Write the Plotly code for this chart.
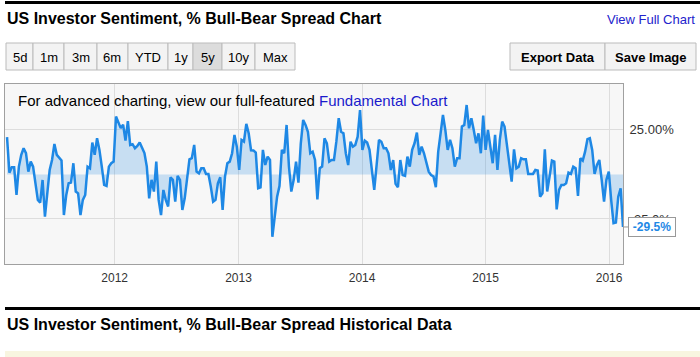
import pandas as pd
import plotly.graph_objects as go

# ---------------- data ----------------
start_date = "2011-02-17"  # weekly readings (Thursdays)
spread_values = [
    21, 1, 4, 4, -11.5, 4.4, 11, 14.7, 12, 1.6,
    7.2, 4.4, -5, -14.3, -15.8, -3.1, -23.7, -8.7, 2.5, 8.1,
    17.1, 11, 9.6, 7.8, -22.8, -11.5, -5, -4.6, 6.3, -9.6,
    -10.6, -22.8, -14.3, -11.5, 4.4, 3.5, 17.9, 11, 20.3, 13.8,
    4.4, -5.9, -6.5, 4.4, 6.3, 7.2, 32.5, 29, 26, 28,
    19, 30, 16.5, 17, 14.7, 16, 18, 15, 12, 4.4,
    -13.4, -3, -9.6, 7.2, -14.3, -22.8, -8.7, -14.3, -18, -1.6,
    -3, -15.3, -0.8, -3, -19.9, -13.4, -1.2, 8.5, 9.1, 16.6,
    1.6, 0.6, 3.5, 3.5, 0.3, 0.3, -6.8, -15.3, -14.3, -5,
    -1.6, -19.9, -1.2, 6.3, 7.2, 11.9, 22.2, 15.6, 2.5, 19.4,
    18.5, 28.4, 23.1, 13.6, 13.5, 12.3, -7.8, -7.3, 13.8, 5.3,
    10, 8.1, -35, -21.8, -12.5, -6.5, 13.8, 11.9, 27.8, 4.4,
    -9.6, -3, 7.2, -4.6, 17.5, 30.6, 27.8, 24, 11.9, 12.8,
    8.1, -14, 3.5, 4.4, 20.3, 17.5, 7.2, 8.1, 8.1, 18.4,
    31.6, 24, 23.1, 11.9, 5.3, 18.4, 15.6, 16.6, 21.2, 36.2,
    13.8, 19, 17.9, 13.8, 3, -8.7, 5.3, 19.4, 18.4, 14.7,
    14.7, 11.9, 2.5, 8.1, -5.3, -7.2, 8.1, -0.3, -0.8, 10,
    4.4, 13.8, 17.5, 23.5, 11, 15.6, 11.9, 6.3, 1.6, -0.3,
    -1.2, -7.2, 12.8, 23.1, 33.4, 25, 13.8, 19.4, 14.7, 4.4,
    9.1, 9.1, 26.9, 27.8, 39, 25.9, 31.6, 25, 17.5, 23.1,
    11.9, 33, 13.8, 25, 15.6, 6.3, 22.2, 2.5, 19.4, 29.7,
    26.9, 17.5, 5.3, -4, 14.1, 3.5, 4.4, 9.1, 8.5, 8.5,
    0.3, 0.3, 0.3, 2.5, 2.2, -12.5, -10.6, 14.1, -9.6, -1.2,
    7.8, 7.2, -19.6, -8.7, -5.9, -5.9, -5, 1, 0.3, 4.4,
    3.5, -12.1, 9.1, 7.8, 12.8, 19.8, 20.3, 13.8, 0.3, 5.3,
    8.1, -3, -15.3, -3, 1.6, -14.3, -27.4, -27, -12.5, -7.8,
    -29.5,
]
x_tick_vals = ["2012-01-01", "2013-01-01", "2014-01-01", "2015-01-01", "2016-01-01"]
x_tick_text = ["2012", "2013", "2014", "2015", "2016"]
y_tick_vals = [25, -25]
y_tick_text = ["25.00%", "-25.0%"]
range_buttons = ["5d", "1m", "3m", "6m", "YTD", "1y", "5y", "10y", "Max"]
selected_button = "5y"
last_label = "-29.5%"

dates = pd.date_range(start_date, periods=len(spread_values), freq="7D")

# ---------------- layout helpers ----------------
W, H = 700, 357
ML, MR, MT, MB = 5, 77, 84, 93
PW, PH = W - ML - MR, H - MT - MB
FONT = "Arial, 'Liberation Sans', sans-serif"


def px(x):
    return (x - ML) / PW


def py(y):
    return (H - MB - y) / PH


fig = go.Figure()
fig.add_trace(go.Scatter(
    x=dates, y=spread_values, mode="lines",
    line=dict(color="#1e88e5", width=2.5),
    fill="tozeroy", fillcolor="rgba(30,136,229,0.22)",
    hoverinfo="skip", showlegend=False,
))

shapes = []
annotations = []

# top rule and heading
shapes.append(dict(type="rect", xref="paper", yref="paper", x0=px(5), x1=px(700),
                   y0=py(4), y1=py(1), fillcolor="#000", line=dict(width=0), layer="above"))
annotations.append(dict(xref="paper", yref="paper", x=px(5), y=py(18), xanchor="left", yanchor="middle",
                        text="<b>US Investor Sentiment, % Bull-Bear Spread Chart</b>", showarrow=False,
                        font=dict(family=FONT, size=16, color="#000")))
annotations.append(dict(xref="paper", yref="paper", x=px(697), y=py(20), xanchor="right", yanchor="middle",
                        text="View Full Chart", showarrow=False,
                        font=dict(family=FONT, size=13, color="#2323cc")))

# range buttons
btn_edges = [6, 33, 64, 97, 128, 168, 193, 222, 255, 295]
for i, lab in enumerate(range_buttons):
    x0, x1 = btn_edges[i], btn_edges[i + 1]
    bg = "#dcdcdc" if lab == selected_button else "#f3f3f3"
    shapes.append(dict(type="rect", xref="paper", yref="paper", x0=px(x0), x1=px(x1),
                       y0=py(70), y1=py(43), fillcolor=bg, line=dict(color="#bbbbbb", width=1), layer="above"))
    annotations.append(dict(xref="paper", yref="paper", x=px((x0 + x1) / 2), y=py(57),
                            xanchor="center", yanchor="middle", text=lab, showarrow=False,
                            font=dict(family=FONT, size=13, color="#000")))

for (x0, x1, lab) in [(510, 605, "Export Data"), (605, 696, "Save Image")]:
    shapes.append(dict(type="rect", xref="paper", yref="paper", x0=px(x0), x1=px(x1),
                       y0=py(70), y1=py(43), fillcolor="#f3f3f3", line=dict(color="#bbbbbb", width=1), layer="above"))
    annotations.append(dict(xref="paper", yref="paper", x=px((x0 + x1) / 2), y=py(57),
                            xanchor="center", yanchor="middle", text="<b>" + lab + "</b>", showarrow=False,
                            font=dict(family=FONT, size=13, color="#000")))

# in-chart note
annotations.append(dict(xref="paper", yref="paper", x=px(16), y=py(100), xanchor="left", yanchor="middle",
                        text="For advanced charting, view our full-featured "
                             "<span style='color:#1a1acc'>Fundamental Chart</span>",
                        showarrow=False, font=dict(family=FONT, size=15, color="#000")))

# last value tag
annotations.append(dict(x=dates[-1], y=spread_values[-1], xref="x", yref="y",
                        text="<b>" + last_label + "</b>", showarrow=True, arrowhead=0, arrowwidth=1,
                        arrowcolor="#999999", ax=29, ay=0, standoff=0,
                        bgcolor="#ffffff", bordercolor="#999999", borderwidth=1, borderpad=2,
                        width=42, height=14,
                        font=dict(family=FONT, size=12, color="#1e88e5")))

# bottom section
shapes.append(dict(type="rect", xref="paper", yref="paper", x0=px(5), x1=px(700),
                   y0=py(310), y1=py(307), fillcolor="#000", line=dict(width=0), layer="above"))
annotations.append(dict(xref="paper", yref="paper", x=px(5), y=py(324), xanchor="left", yanchor="middle",
                        text="<b>US Investor Sentiment, % Bull-Bear Spread Historical Data</b>", showarrow=False,
                        font=dict(family=FONT, size=16, color="#000")))
shapes.append(dict(type="rect", xref="paper", yref="paper", x0=px(5), x1=px(700),
                   y0=py(360), y1=py(351), fillcolor="#f8f5e0", line=dict(width=0), layer="above"))

fig.update_layout(
    width=W, height=H,
    margin=dict(l=ML, r=MR, t=MT, b=MB, pad=0),
    paper_bgcolor="#ffffff", plot_bgcolor="#f7f7f7",
    shapes=shapes, annotations=annotations,
    showlegend=False,
    font=dict(family=FONT, size=12, color="#333"),
    xaxis=dict(
        type="date", range=["2011-02-11", "2016-02-11"],
        tickvals=x_tick_vals, ticktext=x_tick_text,
        showgrid=True, gridcolor="#dddddd", gridwidth=1,
        showline=True, linecolor="#a0a0a0", linewidth=1, mirror=True,
        ticks="", tickfont=dict(family=FONT, size=12, color="#333"),
        ticklabelstandoff=3,
        zeroline=False, fixedrange=True,
    ),
    yaxis=dict(
        range=[-50.3, 50.8], side="right",
        tickvals=y_tick_vals, ticktext=y_tick_text,
        showgrid=True, gridcolor="#dddddd", gridwidth=1,
        showline=True, linecolor="#a0a0a0", linewidth=1, mirror=True,
        ticks="", tickfont=dict(family=FONT, size=13, color="#333"),
        ticklabelstandoff=3,
        zeroline=False, fixedrange=True,
    ),
)

fig.write_html(
    "out.html",
    config={"displayModeBar": False},
    post_script="document.body.style.margin='0';document.body.style.padding='0';"
                "document.documentElement.style.overflow='hidden';",
)
